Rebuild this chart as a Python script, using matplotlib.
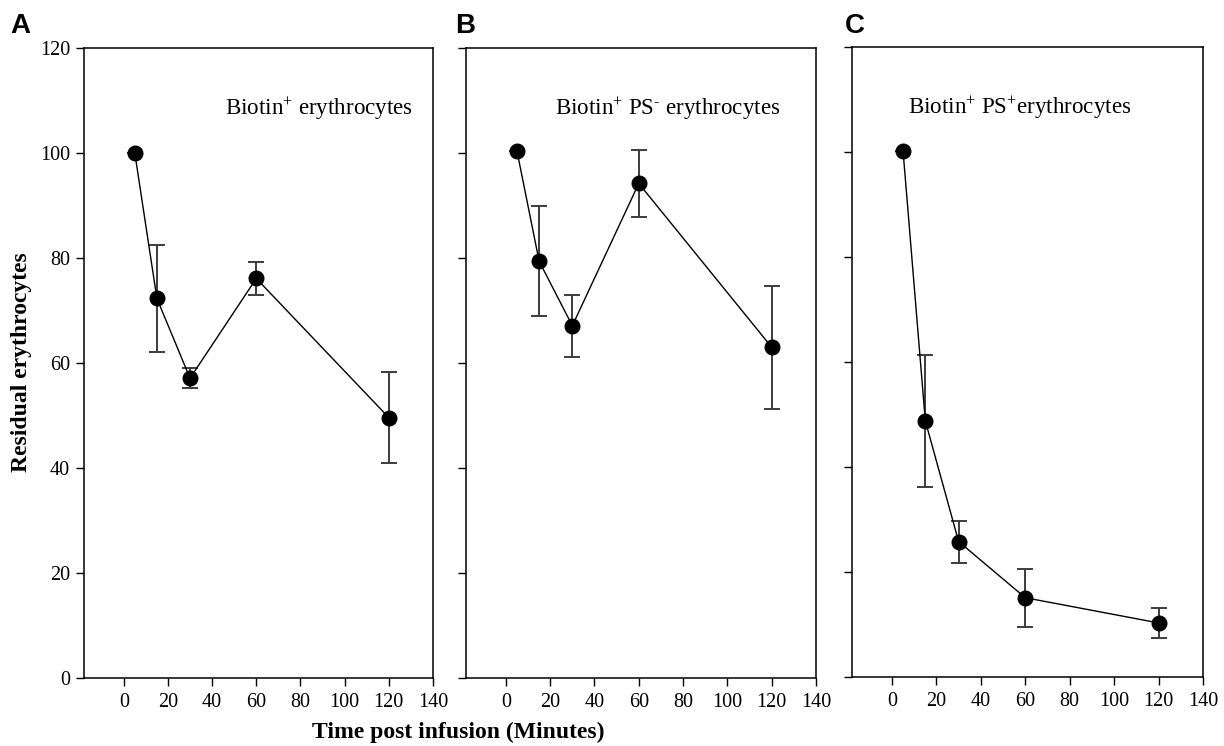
import matplotlib
matplotlib.use("Agg")
import matplotlib.pyplot as plt

plt.rcParams['font.family'] = ['Liberation Serif', 'DejaVu Serif']
plt.rcParams['mathtext.fontset'] = 'custom'
plt.rcParams['mathtext.rm'] = 'Liberation Serif'
plt.rcParams['mathtext.it'] = 'Liberation Serif:italic'
plt.rcParams['mathtext.bf'] = 'Liberation Serif:bold'

# ---- data ----
time_min = [5, 15, 30, 60, 120]

a_values = [100.0, 72.3, 57.1, 76.1, 49.6]
a_errors = [0.0, 10.2, 1.9, 3.2, 8.6]

b_values = [100.4, 79.4, 67.1, 94.2, 63.0]
b_errors = [0.0, 10.5, 5.9, 6.4, 11.7]

c_values = [100.1, 48.8, 25.8, 15.1, 10.3]
c_errors = [0.0, 12.6, 4.0, 5.5, 2.8]

panel_letters = ['A', 'B', 'C']
panel_titles = [r'Biotin$^{+}$ erythrocytes',
                r'Biotin$^{+}$ PS$^{\text{-}}$ erythrocytes',
                r'Biotin$^{+}$ PS$^{+}$erythrocytes']
x_ticks = [0, 20, 40, 60, 80, 100, 120, 140]
y_ticks = [0, 20, 40, 60, 80, 100, 120]

values = [a_values, b_values, c_values]
errors = [a_errors, b_errors, c_errors]

fig = plt.figure(figsize=(12.24, 7.46), dpi=100)
W, H = 1224, 746
boxes = [(84, 433, 48, 678), (466, 816, 48, 678), (852, 1203, 47, 677)]
title_x = [0.405, 0.255, 0.16]
letter_x = [10, 455, 845]

for i, (l, r, t, b) in enumerate(boxes):
    ax = fig.add_axes([l / W, 1 - b / H, (r - l) / W, (b - t) / H])
    ax.errorbar(time_min, values[i], yerr=errors[i], fmt='none',
                ecolor='#3c3c3c', elinewidth=1.4, capsize=6, capthick=1.4, zorder=2)
    ax.plot(time_min, values[i], color='black', lw=1.0, marker='o',
            markersize=10.5, markerfacecolor='black', markeredgecolor='black', zorder=3)
    ax.set_xlim(-18, 140)
    ax.set_ylim(0, 120)
    ax.set_xticks(x_ticks)
    ax.set_yticks(y_ticks)
    ax.tick_params(direction='out', length=6, width=1.0, labelsize=14.5, pad=4)
    ax.tick_params(axis='x', pad=5)
    if i > 0:
        ax.set_yticklabels([])
    for s in ax.spines.values():
        s.set_linewidth(1.1)
        s.set_color('black')
    ax.text(title_x[i], 0.893, panel_titles[i], transform=ax.transAxes,
            fontsize=16.6, ha='left', va='baseline')
    fig.text(letter_x[i] / W, 1 - 33 / H, panel_letters[i], fontsize=20,
             fontweight='bold', family=['Liberation Sans', 'DejaVu Sans'],
             ha='left', va='baseline')

fig.text(22 / W, 1 - 362 / H, 'Residual erythrocytes', rotation=90,
         fontsize=17, fontweight='bold', ha='center', va='center')
fig.text(458 / W, 1 - 732 / H, 'Time post infusion (Minutes)',
         fontsize=17, fontweight='bold', ha='center', va='center')

fig.savefig('out.png', dpi=100)
